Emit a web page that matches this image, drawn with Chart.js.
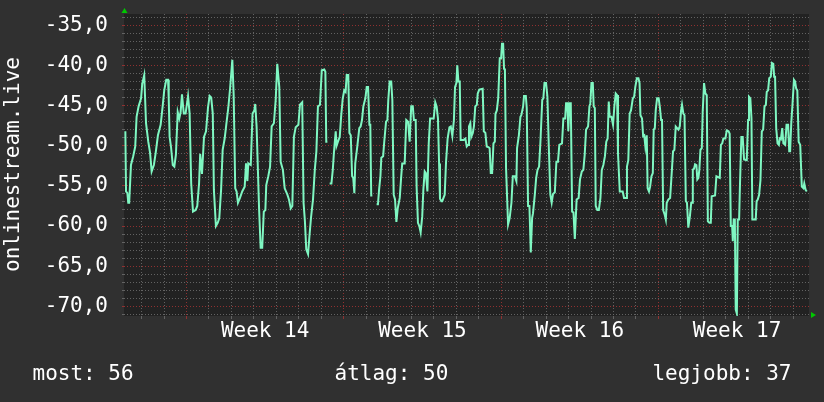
<!DOCTYPE html>
<html><head><meta charset="utf-8">
<script src="https://cdn.jsdelivr.net/npm/chart.js@4"></script>
<style>html,body{margin:0;padding:0;background:#303030;}canvas{display:block;}</style>
</head><body>
<canvas id="c" width="824" height="402"></canvas>
<script>
// time in days relative to the start of Week 14; null = gap in the data
const days = [
-2.72,-2.69,-2.63,-2.59,-2.55,-2.47,-2.37,-2.28,-2.22,-2.13,-2.02,-1.97,-1.88,-1.80,-1.70,-1.62,-1.55,-1.45,-1.37,-1.27,
-1.15,-1.06,-0.99,-0.90,-0.82,-0.79,-0.75,-0.69,-0.61,-0.54,-0.47,-0.39,-0.32,-0.26,-0.20,-0.12,-0.04,0.07,0.14,0.21,
0.29,0.41,0.48,0.56,0.61,0.69,0.78,0.87,0.96,1.03,1.10,1.17,1.22,1.31,1.39,1.46,1.54,1.61,1.70,1.77,
1.86,1.94,2.04,2.10,2.17,2.23,2.29,2.38,2.48,2.59,2.65,2.71,2.75,2.86,2.94,3.02,3.06,3.12,3.23,3.30,
3.37,3.44,3.51,3.55,3.64,3.72,3.79,3.89,3.97,4.04,4.13,4.19,4.29,4.37,4.49,4.56,4.64,4.71,4.78,4.86,
4.98,5.05,5.15,5.21,5.27,5.33,5.41,5.47,5.54,5.63,5.71,5.78,5.85,5.94,6.02,6.13,6.18,6.22,6.27,6.31,
6.37,6.45,6.51,6.56,6.64,6.68,6.74,6.82,6.88,6.95,7.02,7.08,7.13,7.20,7.25,7.31,7.37,7.42,7.47,7.51,
7.60,7.69,7.75,7.81,7.87,7.96,8.02,8.08,8.14,8.18,8.22,8.27,8.36,8.46,8.52,8.57,8.63,8.67,8.75,8.80,
8.88,8.94,8.98,9.04,9.11,9.16,9.22,9.28,9.34,9.40,9.49,9.55,9.60,9.71,9.78,9.86,9.93,10.00,10.07,10.12,
10.20,10.24,10.30,10.36,10.42,10.49,10.54,10.60,10.65,10.72,10.78,10.84,11.00,11.07,11.13,11.19,11.24,11.28,11.34,11.38,
11.49,11.55,11.62,11.70,11.76,11.83,11.90,11.95,12.01,12.05,12.10,12.16,12.20,12.32,12.41,12.47,12.53,12.57,12.63,12.67,
12.74,12.79,12.85,12.92,12.96,13.03,13.18,13.23,13.30,13.36,13.45,13.49,13.54,13.60,13.66,13.72,13.75,13.81,13.87,13.94,
14.00,14.04,14.09,14.13,14.17,14.22,14.31,14.38,14.46,14.52,14.61,14.68,14.71,14.79,14.86,14.90,14.98,15.02,15.10,15.14,
15.20,15.26,15.32,15.38,15.42,15.50,15.56,15.62,15.69,15.75,15.83,15.88,15.93,16.00,16.06,16.12,16.19,16.25,16.31,16.39,
16.46,16.53,16.59,16.71,16.77,16.85,16.89,16.95,16.99,17.04,17.10,17.16,17.22,17.28,17.36,17.45,17.51,17.59,17.66,17.72,
17.78,17.87,17.93,17.97,18.02,18.08,18.12,18.17,18.21,18.28,18.35,18.42,18.48,18.55,18.62,18.68,18.74,18.79,18.83,18.91,
18.98,19.04,19.10,19.16,19.20,19.28,19.41,19.47,19.56,19.60,19.66,19.72,19.78,19.86,19.92,19.97,20.04,20.11,20.16,20.20,
20.27,20.32,20.37,20.42,20.48,20.52,20.58,20.63,20.69,20.75,20.79,20.84,20.88,20.94,21.01,21.06,21.12,21.16,21.21,21.28,
21.33,21.37,21.44,21.52,21.60,21.65,21.71,21.77,21.83,21.89,21.95,22.01,22.05,22.11,22.16,22.22,22.27,22.33,22.40,22.46,
22.50,22.53,22.59,22.63,22.69,22.73,22.78,22.82,22.87,22.93,22.97,23.03,23.09,23.15,23.20,23.27,23.33,23.37,23.52,23.58,
23.73,23.78,23.84,23.89,23.98,24.04,24.12,24.17,24.22,24.28,24.31,24.35,24.40,24.44,24.49,24.53,24.59,24.63,24.69,24.75,
24.81,24.93,24.99,25.03,25.09,25.14,25.18,25.33,25.37,25.42,25.48,25.54,25.60,25.66,25.72,25.78,25.82,25.88,25.93,26.00,
26.05,26.11,26.15,26.19,26.24,26.30,26.36,26.40,26.45,26.51,26.56,26.64,26.70,26.77,26.82,26.86,26.91,26.96,27.03,27.08,
27.13,27.18,27.24,27.31,27.38,27.45,27.49,27.55,27.60
];
const values = [
-48.2,-55.7,-55.9,-57.1,-57.1,-52.4,-51.3,-50.1,-46.4,-45.1,-44.1,-42.3,-41.2,-47.2,-49.5,-50.9,-53.2,-52.4,-50.9,-48.7,
-47.4,-45.1,-43.1,-41.8,-41.8,-44.1,-48.9,-50.1,-52.4,-52.6,-51.1,-45.8,-46.6,-45.8,-43.6,-46.0,-46.0,-43.8,-46.0,-54.7,
-58.2,-58.0,-57.5,-54.7,-51.0,-53.5,-48.9,-48.2,-45.2,-43.8,-44.0,-46.0,-55.5,-60.0,-59.6,-59.0,-55.5,-50.5,-49.1,-47.4,
-45.3,-42.9,-39.3,-43.7,-55.3,-55.7,-57.1,-56.5,-55.7,-55.1,-52.2,-54.4,-52.2,-52.4,-46.0,-45.6,-44.8,-47.6,-57.8,-62.7,
-62.7,-58.2,-58.0,-54.9,-53.8,-52.6,-47.6,-47.2,-44.3,-39.8,-42.7,-52.0,-53.0,-55.3,-56.1,-56.7,-57.8,-57.5,-48.9,-47.7,
-47.4,-44.9,-44.6,-57.1,-59.4,-62.9,-63.5,-61.3,-59.0,-56.7,-53.0,-50.7,-45.1,-44.9,-40.6,-40.5,-40.8,-49.5,-49.5,null,
-54.7,-54.7,-53.0,-50.9,-48.2,-50.0,-49.5,-48.9,-46.4,-44.2,-43.1,-43.3,-41.2,-41.2,-48.4,-48.7,-53.8,-54.0,-55.9,-52.2,
-50.1,-47.8,-47.6,-46.8,-45.1,-44.1,-42.7,-42.7,-47.4,-47.4,-56.2,-56.2,null,-57.3,-57.3,-55.5,-53.8,-51.5,-51.3,-49.5,
-47.0,-46.8,-44.3,-42.0,-42.0,-44.3,-56.1,-56.7,-59.5,-57.8,-56.5,-54.0,-52.2,-52.2,-46.8,-47.0,-49.5,-45.1,-45.1,-46.8,
-46.8,-55.1,-59.6,-60.0,-60.8,-58.8,-55.5,-53.2,-53.4,-55.7,-49.7,-46.6,-46.6,-44.6,-45.1,-46.6,-52.2,-56.6,-56.9,-56.9,
-56.1,-52.0,-49.1,-47.7,-47.6,-48.8,-46.8,-42.7,-42.2,-40.0,-42.0,-42.0,-49.3,-49.3,-49.1,-50.1,-49.9,-47.6,-47.2,-48.9,
-48.4,-47.6,-45.1,-44.9,-43.5,-43.0,-42.9,-48.2,-48.4,-50.1,-50.2,-50.3,-53.4,-53.4,-49.7,-49.5,-46.0,-45.6,-44.1,-39.1,
-39.1,-37.3,-37.3,-40.4,-40.6,-52.8,-59.8,-59.0,-57.1,-53.8,-53.8,-54.4,-50.3,-48.7,-46.4,-46.2,-45.1,-43.8,-43.8,-45.3,
-57.5,-57.5,-63.3,-59.0,-58.4,-56.1,-54.0,-53.0,-52.6,-49.5,-44.3,-44.1,-42.2,-42.2,-43.9,-49.9,-56.1,-57.1,-56.0,-55.8,
-52.0,-52.0,-49.9,-49.7,-46.6,-46.6,-44.7,-44.7,-48.2,-44.7,-44.7,-58.2,-58.3,-61.6,-56.7,-56.5,-54.2,-53.2,-53.0,-51.1,
-48.0,-47.6,-45.1,-44.7,-42.2,-42.2,-45.1,-45.3,-57.5,-58.0,-58.0,-56.5,-53.0,-52.4,-51.3,-49.5,-49.1,-44.5,-46.4,-46.4,
-47.4,-45.1,-43.5,-43.7,-50.9,-55.7,-55.7,-56.5,-56.5,-52.6,-51.8,-46.0,-45.6,-44.1,-43.9,-42.7,-41.6,-41.6,-42.2,-46.2,
-46.6,-48.8,-48.7,-50.1,-48.7,-55.3,-55.7,-55.1,-53.8,-53.4,-48.0,-47.8,-45.6,-44.1,-44.1,-45.1,-46.8,-46.8,-58.0,-58.6,
-59.2,-57.1,-56.7,-56.5,-53.0,-50.7,-50.5,-47.6,-47.8,-48.0,-47.6,-45.6,-44.9,-46.0,-46.2,-56.9,-57.1,-60.2,-58.8,-57.1,
-57.1,-53.0,-52.8,-52.3,-52.4,-54.2,-54.0,-53.0,-50.5,-50.3,-45.8,-42.2,-43.5,-43.7,-59.4,-59.6,-59.6,-56.3,-56.2,-53.8,
-54.0,-49.9,-49.7,-49.1,-49.1,-48.1,-48.2,-48.5,-60.0,-60.0,-61.9,-59.2,-59.2,-70.4,-70.9,-59.2,-59.2,-54.7,-48.9,-48.9,
-51.7,-51.8,-46.8,-43.9,-44.1,-46.6,-59.2,-59.2,-56.9,-56.7,-56.1,-54.3,-48.2,-48.0,-45.1,-44.9,-43.3,-43.1,-41.6,-41.4,
-39.7,-39.8,-41.4,-41.4,-47.8,-49.7,-49.9,-49.1,-49.2,-47.8,-49.7,-49.9,-47.4,-47.4,-50.7,-50.7,-47.2,-45.1,-41.8,-42.0,
-42.9,-43.1,-49.5,-49.9,-55.1,-55.3,-54.7,-55.5,-55.7
];
const weekCenters = [3.5, 10.5, 17.5, 24.5];
const weekLabels = ['Week 14', 'Week 15', 'Week 16', 'Week 17'];
const axisTitle = 'onlinestream.live';
const legendLabels = ['most', 'átlag', 'legjobb'];
const legendValues = [56, 50, 37];

const FONT = 'DejaVu Sans Mono';
const FS = 21;
const GRID_MINOR = 'rgba(105,105,105,0.9)';
const GRID_MAJOR = 'rgba(150,50,50,0.95)';
const LINE = '#7ff7c2';

const points = days.map((d, i) => ({ x: d, y: values[i] }));

function zeroPad(s) { s.paddingTop = 0; s.paddingBottom = 0; s.paddingLeft = 0; s.paddingRight = 0; }

const bgPlugin = {
  id: 'bg',
  beforeDraw(chart) {
    const { ctx, chartArea: a } = chart;
    ctx.save();
    ctx.fillStyle = '#303030';
    ctx.fillRect(0, 0, chart.width, chart.height);
    ctx.fillStyle = '#222222';
    ctx.fillRect(a.left, a.top, a.right - a.left, a.bottom - a.top);
    ctx.restore();
  },
  afterDraw(chart) {
    const { ctx, chartArea: a } = chart;
    ctx.save();
    // arrows
    ctx.fillStyle = '#00c800';
    ctx.beginPath();
    ctx.moveTo(a.left - 2.5, a.top - 1);
    ctx.lineTo(a.left + 3.5, a.top - 1);
    ctx.lineTo(a.left + 0.5, a.top - 6);
    ctx.closePath(); ctx.fill();
    ctx.beginPath();
    ctx.moveTo(a.right + 2, a.bottom - 4);
    ctx.lineTo(a.right + 2, a.bottom + 2);
    ctx.lineTo(a.right + 7, a.bottom - 1);
    ctx.closePath(); ctx.fill();
    // axis title
    ctx.fillStyle = '#ffffff';
    ctx.font = FS + 'px "' + FONT + '"';
    ctx.textBaseline = 'alphabetic';
    ctx.save();
    ctx.translate(18.5, 272);
    ctx.rotate(-Math.PI / 2);
    ctx.textAlign = 'left';
    ctx.fillText(axisTitle, 0, 0);
    ctx.restore();
    // legend line
    const by = 380;
    ctx.textAlign = 'left';
    ctx.fillText(legendLabels[0] + ': ' + legendValues[0], 32.5, by);
    ctx.fillText(legendLabels[1] + ': ' + legendValues[1], 334.5, by);
    ctx.textAlign = 'right';
    ctx.fillText(legendLabels[2] + ': ' + legendValues[2], 791.5, by);
    ctx.restore();
  }
};

new Chart(document.getElementById('c'), {
  type: 'line',
  data: {
    datasets: [{
      data: points,
      borderColor: LINE,
      borderWidth: 2,
      pointRadius: 0,
      tension: 0,
      spanGaps: false,
      fill: false
    }]
  },
  options: {
    responsive: false,
    animation: false,
    devicePixelRatio: 1,
    layout: { padding: { top: 14, right: 15, left: 0, bottom: 0 } },
    plugins: { legend: { display: false }, tooltip: { enabled: false } },
    scales: {
      x: {
        type: 'linear',
        min: -2.78,
        max: 27.70,
        afterBuildTicks(s) {
          const t = [];
          for (let v = -2.5; v <= 27.5; v += 0.5) t.push({ value: v });
          s.ticks = t;
        },
        afterFit(s) { s.height = 86; zeroPad(s); },
        border: { display: false, dash: [1, 2] },
        grid: {
          color(c) {
            const v = c.tick ? c.tick.value : 0.5;
            if (Math.abs(v - Math.round(v)) > 0.01) return 'rgba(0,0,0,0)';
            return (Math.round(v) % 7 === 0) ? GRID_MAJOR : GRID_MINOR;
          },
          tickBorderDash: [],
          drawTicks: true,
          tickLength: 3,
          lineWidth: 1
        },
        ticks: {
          autoSkip: false,
          maxRotation: 0,
          minRotation: 0,
          padding: 0,
          color: '#ffffff',
          font: { family: FONT, size: FS },
          callback(v) {
            const i = weekCenters.findIndex(w => Math.abs(w - v) < 0.01);
            return i >= 0 ? weekLabels[i] : '';
          }
        }
      },
      y: {
        type: 'linear',
        min: -71.2,
        max: -33.6,
        afterBuildTicks(s) {
          const t = [];
          for (let v = -71; v <= -34; v++) t.push({ value: v });
          s.ticks = t;
        },
        afterFit(s) { s.width = 124; zeroPad(s); },
        border: { display: false, dash: [1, 2] },
        grid: {
          color(c) {
            const v = c.tick ? c.tick.value : 1;
            return (v % 5 === 0) ? GRID_MAJOR : GRID_MINOR;
          },
          tickBorderDash: [],
          drawTicks: true,
          tickLength: 2,
          lineWidth: 1
        },
        ticks: {
          autoSkip: false,
          padding: 14,
          color: '#ffffff',
          font: { family: FONT, size: FS },
          callback(v) {
            return (v % 5 === 0) ? v.toFixed(1).replace('.', ',') : '';
          }
        }
      }
    }
  },
  plugins: [bgPlugin]
});
</script>
</body></html>
